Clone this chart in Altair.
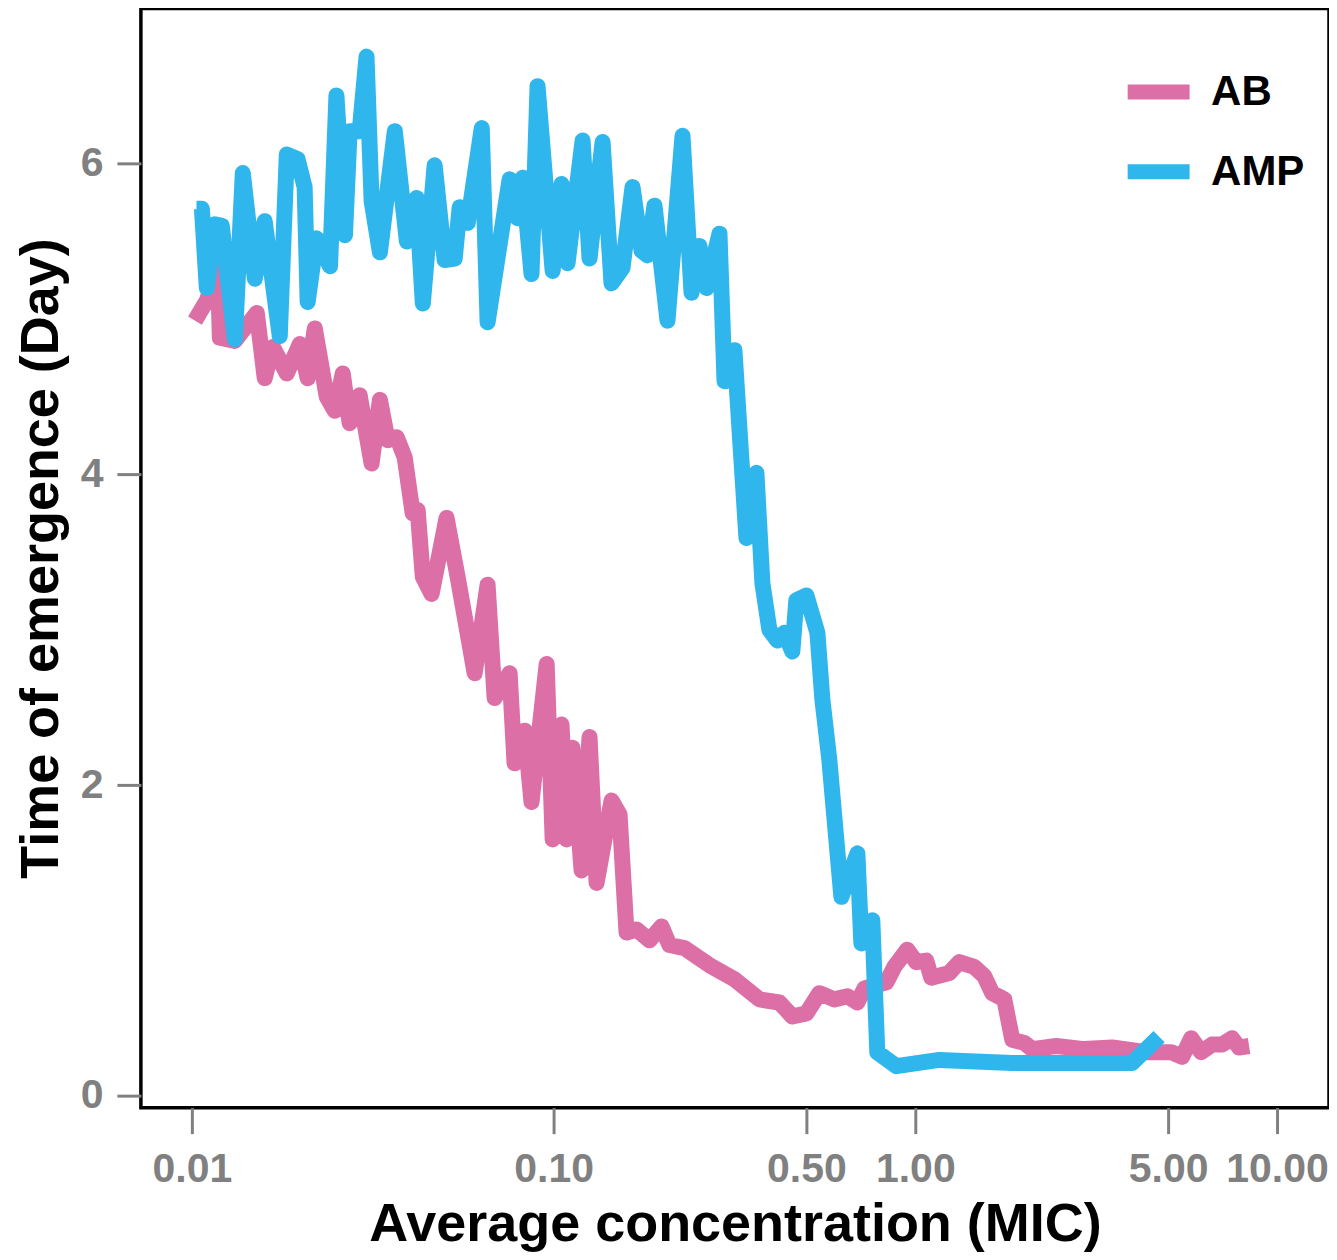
import altair as alt
import pandas as pd

# AMP (blue) series: average concentration (MIC) and time of emergence (day)
amp_conc = [0.0103, 0.01066, 0.0110, 0.01157, 0.0121, 0.01315, 0.01383, 0.01493, 0.0159, 0.0175,
            0.0183, 0.0196, 0.0205, 0.0209, 0.0221, 0.0241, 0.0251, 0.0265, 0.0273, 0.0291,
            0.0304, 0.0314, 0.0331, 0.0364, 0.0393, 0.0418, 0.0435, 0.0469, 0.0500, 0.0533,
            0.0550, 0.0579, 0.0633, 0.0657, 0.0756, 0.0795, 0.0821, 0.0869, 0.0903, 0.0994,
            0.1052, 0.1093, 0.1203, 0.1257, 0.1366, 0.1446, 0.1551, 0.1653, 0.1751, 0.1819,
            0.1901, 0.2065, 0.2272, 0.2406, 0.2531, 0.2647, 0.2875, 0.2969, 0.3162, 0.3413,
            0.3637, 0.3778, 0.3950, 0.4156, 0.4345, 0.4572, 0.469, 0.500, 0.5362, 0.5535,
            0.5786, 0.6246, 0.6916, 0.7094, 0.7606, 0.785, 0.886, 1.165, 1.854, 3.975, 4.72]
amp_day = [5.71, 5.71, 5.20, 5.61, 5.60, 4.87, 5.94, 5.26, 5.63, 4.89,
           6.06, 6.03, 5.85, 5.11, 5.52, 5.34, 6.44, 5.54, 6.21, 6.21,
           6.69, 5.76, 5.43, 6.21, 5.50, 5.78, 5.10, 5.99, 5.38, 5.39,
           5.72, 5.62, 6.23, 4.98, 5.90, 5.65, 5.91, 5.29, 6.50, 5.31,
           5.87, 5.36, 6.15, 5.39, 6.14, 5.23, 5.33, 5.85, 5.44, 5.41,
           5.73, 4.99, 6.18, 5.17, 5.47, 5.20, 5.55, 4.60, 4.80, 3.59,
           4.01, 3.30, 3.00, 2.93, 2.98, 2.86, 3.19, 3.22, 2.98, 2.55,
           2.16, 1.28, 1.56, 0.98, 1.13, 0.28, 0.19, 0.23, 0.21, 0.21, 0.38]

# AB (pink) series
ab_conc = [0.0102, 0.0110, 0.0118, 0.01195, 0.01315, 0.01512, 0.0159, 0.01674, 0.0183, 0.01988,
           0.0209, 0.02187, 0.0236, 0.02483, 0.02613, 0.0273, 0.0291, 0.0314, 0.0331, 0.03478,
           0.03684, 0.03876, 0.04078, 0.0421, 0.0435, 0.0460, 0.0506, 0.0543, 0.0605, 0.0657,
           0.0687, 0.0756, 0.0780, 0.0832, 0.0869, 0.0957, 0.0994, 0.1052, 0.1086, 0.1128,
           0.1195, 0.1257, 0.1315, 0.1446, 0.1522, 0.1591, 0.1696, 0.1842, 0.1988, 0.2091,
           0.2301, 0.2697, 0.3162, 0.3707, 0.421, 0.4572, 0.500, 0.543, 0.597, 0.649,
           0.6916, 0.723, 0.832, 0.875, 0.950, 1.006, 1.072, 1.107, 1.241, 1.323,
           1.455, 1.551, 1.632, 1.762, 1.854, 2.000, 2.105, 2.452, 2.93, 3.501,
           4.346, 5.096, 5.467, 5.788, 6.166, 6.614, 7.047, 7.51, 7.852, 8.37]
ab_day = [4.99, 5.12, 5.33, 4.88, 4.86, 5.04, 4.62, 4.82, 4.65, 4.84,
          4.62, 4.94, 4.50, 4.41, 4.65, 4.33, 4.51, 4.07, 4.48, 4.22,
          4.24, 4.11, 3.75, 3.77, 3.34, 3.23, 3.72, 3.34, 2.72, 3.29,
          2.56, 2.72, 2.14, 2.35, 1.89, 2.78, 1.65, 2.39, 1.65, 2.24,
          1.45, 2.31, 1.37, 1.90, 1.81, 1.05, 1.07, 1.00, 1.09, 0.97,
          0.95, 0.84, 0.75, 0.62, 0.60, 0.51, 0.53, 0.66, 0.62, 0.64,
          0.60, 0.69, 0.73, 0.83, 0.94, 0.86, 0.87, 0.76, 0.79, 0.86,
          0.83, 0.77, 0.66, 0.62, 0.36, 0.34, 0.30, 0.32, 0.30, 0.31,
          0.28, 0.28, 0.25, 0.37, 0.28, 0.33, 0.33, 0.37, 0.31, 0.32]

series_names = ["AB", "AMP"]
series_colors = ["#DC6FA6", "#2FB6EC"]
x_ticks = [0.01, 0.1, 0.5, 1, 5, 10]
y_ticks = [0, 2, 4, 6]

df_ab = pd.DataFrame({"conc": ab_conc, "day": ab_day, "drug": "AB"})
df_amp = pd.DataFrame({"conc": amp_conc, "day": amp_day, "drug": "AMP"})

FONT = "Liberation Sans"
GRAY = "#808080"

x_enc = alt.X(
    "conc:Q",
    scale=alt.Scale(type="log", domain=[0.00723, 13.92], nice=False),
    axis=alt.Axis(
        values=x_ticks, format=".2f", title="Average concentration (MIC)",
        grid=False, domain=False, tickColor=GRAY, tickWidth=3, tickSize=26,
        labelColor=GRAY, labelFont=FONT, labelFontSize=41, labelFontWeight="bold",
        labelPadding=16, labelOverlap=False, labelFlush=False,
        titleFont=FONT, titleFontSize=54, titleFontWeight="bold", titleColor="black",
        titlePadding=8,
    ),
)
y_enc = alt.Y(
    "day:Q",
    scale=alt.Scale(domain=[-0.077, 7.0], nice=False, zero=False),
    axis=alt.Axis(
        values=y_ticks, title="Time of emergence (Day)",
        grid=False, domain=False, tickColor=GRAY, tickWidth=3, tickSize=24,
        labelColor=GRAY, labelFont=FONT, labelFontSize=41, labelFontWeight="bold",
        labelPadding=14, labelFlush=False,
        titleFont=FONT, titleFontSize=54, titleFontWeight="bold", titleColor="black",
        titlePadding=12,
    ),
)
color_enc = alt.Color(
    "drug:N",
    scale=alt.Scale(domain=series_names, range=series_colors),
    legend=alt.Legend(
        orient="none", legendX=980, legendY=45, title=None,
        symbolType="stroke", symbolSize=3844, symbolStrokeWidth=15,
        labelFont=FONT, labelFontSize=42, labelFontWeight="bold", labelColor="black",
        labelOffset=14, rowPadding=11,
    ),
)

line_props = dict(strokeWidth=16, strokeJoin="round", strokeCap="butt")
ab_line = alt.Chart(df_ab).mark_line(**line_props).encode(x=x_enc, y=y_enc, color=color_enc)
amp_line = alt.Chart(df_amp).mark_line(**line_props).encode(x=x_enc, y=y_enc, color=color_enc)

chart = (
    alt.layer(ab_line, amp_line)
    .properties(
        width=1189, height=1100,
        background="white",
        autosize=alt.AutoSizeParams(type="none"),
        padding={"left": 133, "top": 0, "right": 0, "bottom": 144},
    )
    .configure_view(stroke="black", strokeWidth=3.5)
)

chart.save("out.html", embed_options={"renderer": "svg", "actions": False})
